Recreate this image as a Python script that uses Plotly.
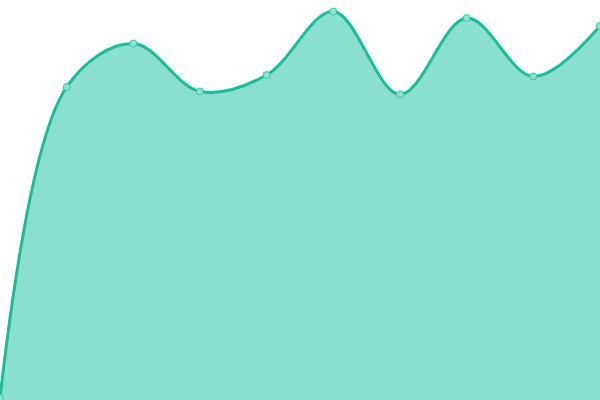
import plotly.graph_objects as go

categories = list(range(10))
values = [2, 313, 356.5, 308.5, 325, 388.5, 305.5, 382, 323.5, 374]

fig = go.Figure()
fig.add_trace(go.Scatter(
    x=categories, y=values,
    mode="lines+markers",
    line=dict(shape="spline", smoothing=1, color="#1dbb97", width=3),
    fill="tozeroy", fillcolor="#89e0cf",
    marker=dict(size=7, color="#8de2d0", line=dict(color="#3cc6a6", width=1)),
    hoverinfo="skip",
))
fig.update_layout(
    width=600, height=400,
    margin=dict(l=0, r=0, t=0, b=0),
    paper_bgcolor="white", plot_bgcolor="white",
    showlegend=False,
    xaxis=dict(visible=False, range=[0, 9], fixedrange=True),
    yaxis=dict(visible=False, range=[0, 400], fixedrange=True),
)
fig.write_html("out.html", config={"displayModeBar": False},
               post_script="document.body.style.margin='0';document.body.style.padding='0';")
